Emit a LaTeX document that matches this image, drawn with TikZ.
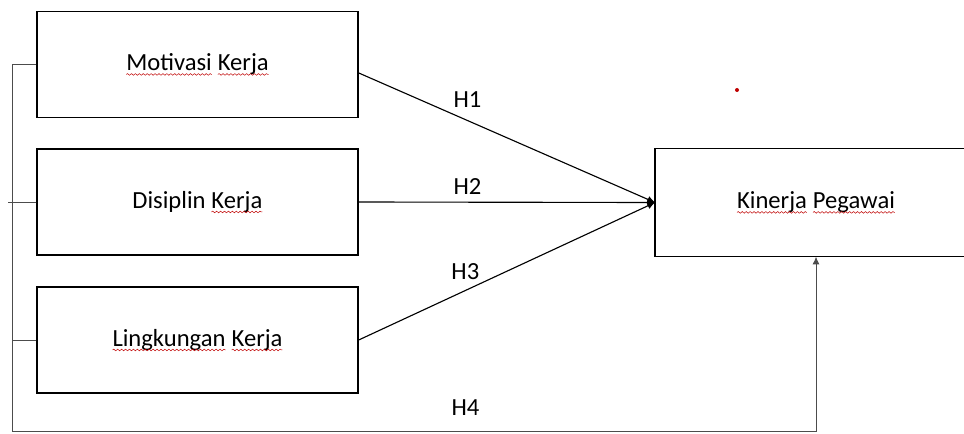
\documentclass[tikz,border=0pt]{standalone}
\usepackage{fontspec}
\setmainfont{Carlito}
\usepackage{tikz}
\usetikzlibrary{positioning, arrows.meta, decorations.pathmorphing}

% red wavy underline of the spell checker
\newcommand{\spellmark}[1]{\tikz[baseline=(word.base), x=1pt, y=1pt]{\node[rectangle, draw=none, inner sep=0pt, outer sep=0pt, minimum width=0pt, minimum height=0pt] (word) {#1};
    \draw[red!75!black, line width=0.35pt, decorate, decoration={snake, amplitude=0.6pt, segment length=2.8pt}]
      ([yshift=-2.8pt]word.base west) -- ([yshift=-2.8pt]word.base east);}}

\begin{document}
\begin{tikzpicture}[
    x=0.025cm, y=-0.025cm,
    varbox/.style={rectangle, draw, line width=0.9pt, minimum width=8.025cm, minimum height=2.65cm, font=\fontsize{17.5}{20}\selectfont},
    hlabel/.style={font=\fontsize{17.5}{20}\selectfont, inner sep=0pt},
    link/.style={line width=0.8pt, -{Latex[length=5.5pt, width=5pt]}},
    bus/.style={line width=0.7pt, black!70}
]
\useasboundingbox (0,0) rectangle (964,433);

\node[varbox] (motivasi) at (197.5,64.5) {\spellmark{Motivasi} \spellmark{Kerja}};
\node[varbox] (disiplin) at (197.5,202) {Disiplin \spellmark{Kerja}};
\node[varbox] (lingkungan) at (197.5,340) {\spellmark{Lingkungan} \spellmark{Kerja}};
% this box runs past the right edge of the picture
\node[varbox, draw=none, minimum width=7.7cm, minimum height=2.675cm, anchor=west] (kinerja) at (655,202.5) {};
\draw[line width=0.9pt] (kinerja.north east) -- (kinerja.north west) -- (kinerja.south west) -- (kinerja.south east);
\node[font=\fontsize{17.5}{20}\selectfont] (kinerjatext) at (816,202.5) {\spellmark{Kinerja} \spellmark{Pegawai}};

\node[circle, fill=red!75!black, inner sep=0pt, minimum size=0.1cm] (dot) at (737,90) {};

\draw[link] (motivasi.357) -- node[hlabel, pos=0.367, above=0.32cm] {H1} (kinerja.west);
\draw[link] (disiplin.east) -- node[hlabel, pos=0.367, above=0.18cm] {H2} (kinerja.west);
\draw[link] (lingkungan.east) -- node[hlabel, pos=0.36, above=0.25cm] {H3} (kinerja.west);

% left bus to the bottom
\coordinate (corner) at (12,431);
\coordinate (stub) at (8,202);
\draw[bus] (motivasi.west) -| (corner);
\draw[bus] (disiplin.west) -- (stub);
\draw[bus] (lingkungan.west) -- (lingkungan.west -| corner);
\draw[bus, -{Latex[length=5.5pt, width=5pt]}] (corner) -| node[hlabel, pos=0.282, above=0.37cm, black] {H4} (kinerja.south -| kinerjatext);

\end{tikzpicture}
\end{document}
